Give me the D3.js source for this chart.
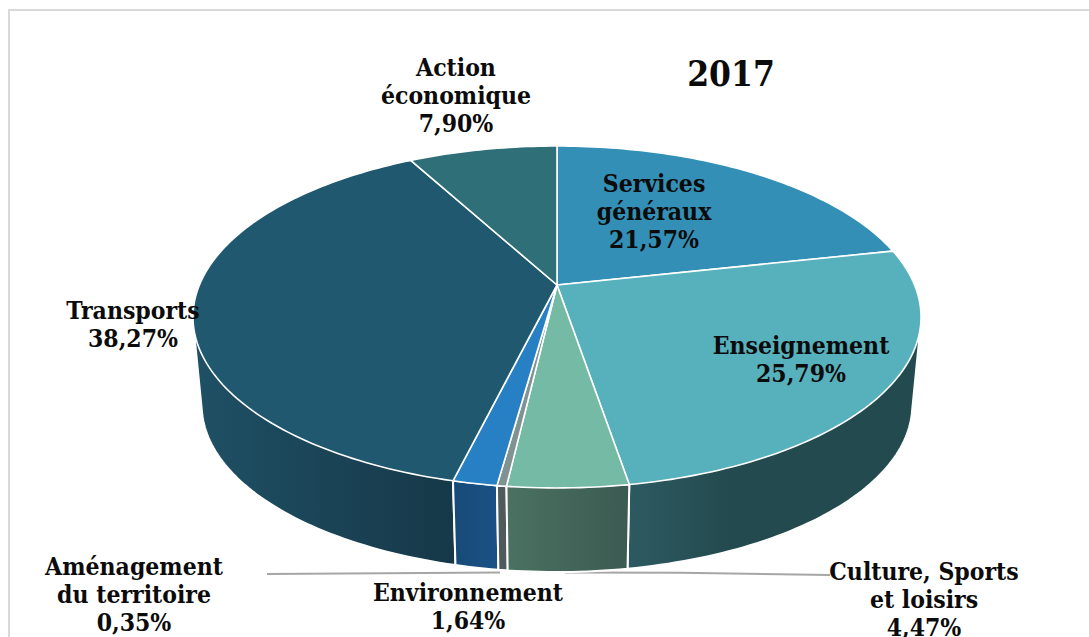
<!DOCTYPE html>
<html><head><meta charset="utf-8">
<script src="https://cdn.jsdelivr.net/npm/d3@7"></script>
<style>
html,body{margin:0;padding:0;background:#fff;overflow:hidden}
text{font-family:"DejaVu Serif Condensed","DejaVu Serif",serif;font-weight:700;fill:#0b0b0b}
</style></head><body><div id="chart"></div>
<script>
const categories=["Services généraux","Enseignement","Culture, Sports et loisirs","Aménagement du territoire","Environnement","Transports","Action économique"];
const values=[21.57,25.79,4.47,0.35,1.64,38.27,7.90];
const valueLabels=["21,57%","25,79%","4,47%","0,35%","1,64%","38,27%","7,90%"];
const labelLines=[["Services","généraux"],["Enseignement"],["Culture, Sports","et loisirs"],["Aménagement","du territoire"],["Environnement"],["Transports"],["Action","économique"]];
const title="2017";

// layout and style, separate from the data
const W=1089,H=637;
const topFills=["#338fb5","#57b1bd","#74baa4","#7f9492","#277fc4","#1f586f","#2f7078"];
const wallLeft=["#1f5a72","#2d5a62","#4a7261","#4f5a5c","#174a78","#1f5065","#1f4a50"];
const wallRight=["#1f5a72","#234a4e","#3c5a52","#4f5a5c","#1a5286","#163848","#1f4a50"];
const wallStop=[1,0.35,1,1,1,1,1];
const labelAnchor=[[654,192],[801,354],[924,580],[134,575],[468,601],[133,319],[456,76]];
const lineGap=28;
const persp=0.187;
const topPlane={x0:557,y0:285,A:357.6,B:165};
const botPlane={x0:557,y0:374,A:349,B:161};
const project=(pl,a)=>{const x=Math.sin(a),y=-Math.cos(a),d=1-persp*y;return [pl.x0+pl.A*x/d,pl.y0+pl.B*y/d];};
const arcPts=(pl,a0,a1)=>{const n=Math.max(2,Math.ceil((a1-a0)/0.02));return d3.range(n+1).map(i=>project(pl,a0+(a1-a0)*i/n));};

const svg=d3.select("#chart").append("svg").attr("width",W).attr("height",H).style("display","block");
const defs=svg.append("defs");
const line=d3.line();
const pie=d3.pie().sort(null).value(d=>d)(values);

// frame
svg.append("path").attr("d","M9 "+H+"V10H"+W).attr("fill","none").attr("stroke","#d9d9d9").attr("stroke-width",2);

// leader lines
const leaders=[[[267,574],[500,572.5]],[[830,575],[680,572.7],[565,572.5]]];
svg.selectAll("path.leader").data(leaders).join("path").attr("class","leader")
  .attr("d",line).attr("fill","none").attr("stroke","#a6a6a6").attr("stroke-width",2);

// walls, back slices first; the hull of the two rims gives the straight silhouette at the sides
const order=pie.map((d,i)=>i).sort((a,b)=>{
  const m=i=>-Math.cos((pie[i].startAngle+pie[i].endAngle)/2);return m(a)-m(b);});
order.forEach(i=>{
  const d=pie[i],up=arcPts(topPlane,d.startAngle,d.endAngle),lo=arcPts(botPlane,d.startAngle,d.endAngle);
  const xs=lo.concat(up).filter(p=>p[1]>330).map(p=>p[0]);
  const ext=xs.length?d3.extent(xs):[0,W];
  const g=defs.append("linearGradient").attr("id","w"+i).attr("gradientUnits","userSpaceOnUse")
    .attr("x1",ext[0]).attr("x2",ext[1]).attr("y1",0).attr("y2",0);
  g.append("stop").attr("offset",0).attr("stop-color",wallLeft[i]);
  g.append("stop").attr("offset",wallStop[i]).attr("stop-color",wallRight[i]);
  svg.append("path").attr("d",line(d3.polygonHull(up.concat(lo)))+"Z")
    .attr("fill","url(#w"+i+")").attr("stroke","#fff").attr("stroke-width",2).attr("stroke-linejoin","round");
});

// top face
pie.forEach((d,i)=>{
  const pts=[[topPlane.x0,topPlane.y0]].concat(arcPts(topPlane,d.startAngle,d.endAngle));
  svg.append("path").attr("d",line(pts)+"Z").attr("fill",topFills[i])
    .attr("stroke","#fff").attr("stroke-width",1.6).attr("stroke-linejoin","round");
});

// labels
categories.forEach((c,i)=>{
  const t=svg.append("text").attr("text-anchor","middle").attr("font-size",24.5);
  labelLines[i].concat([valueLabels[i]]).forEach((s,k)=>{
    t.append("tspan").attr("x",labelAnchor[i][0]).attr("y",labelAnchor[i][1]+k*lineGap).text(s);
  });
});
svg.append("text").attr("x",731).attr("y",86).attr("text-anchor","middle").attr("font-size",35).text(title);
</script></body></html>
